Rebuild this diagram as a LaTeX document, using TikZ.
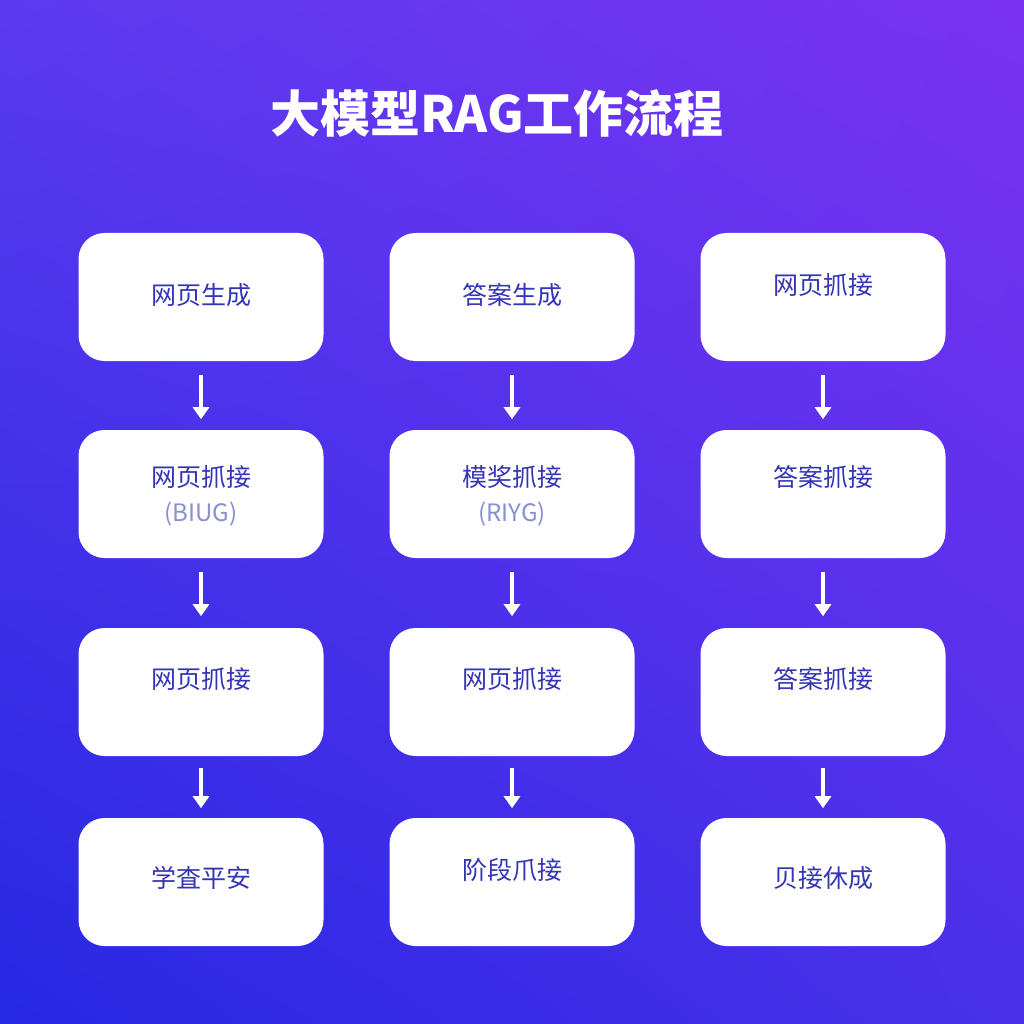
\documentclass[tikz,border=0pt]{standalone}
\usepackage{fontspec}
\newfontfamily\cjk{Noto Sans CJK SC}
\usetikzlibrary{arrows.meta,shadings}
\definecolor{tl}{HTML}{5A3AF0}
\definecolor{tr}{HTML}{7A32F2}
\definecolor{bl}{HTML}{2628E2}
\definecolor{br}{HTML}{4A30EA}
\definecolor{txt}{HTML}{3434B6}
\definecolor{sub}{HTML}{8A8ED2}
\tikzset{box/.style={fill=white,rounded corners=26pt,minimum width=245pt,minimum height=128pt,inner sep=0pt},
lab/.style={font=\cjk\fontsize{25}{30}\selectfont,text=txt},
sublab/.style={font=\cjk\fontsize{24}{28}\selectfont,text=sub},
arr/.style={draw=white,line width=4pt,-{Triangle[width=16pt,length=12pt]}}}
\begin{document}
\begin{tikzpicture}[x=1pt,y=-1pt]
\shade[upper left=tl,upper right=tr,lower left=bl,lower right=br] (0,0) rectangle (1024,1024);
\useasboundingbox (0,0) rectangle (1024,1024);
\node[font=\cjk\bfseries\fontsize{50}{60}\selectfont,text=white] (title) at (497,113) {大模型RAG工作流程};
\foreach \c/\x in {1/201,2/512,3/823}{
  \foreach \r/\y in {1/297,2/494,3/692,4/882}{
    \node[box] (b\c\r) at (\x,\y) {};
  }
  \draw[arr] (b\c1.south) ++(0,14) -- ++(0,44);
  \draw[arr] (b\c2.south) ++(0,14) -- ++(0,44);
  \draw[arr] (b\c3.south) ++(0,12) -- ++(0,40);
}
\node[lab] (t11) at (201,295) {网页生成};
\node[lab] (t21) at (512,295) {答案生成};
\node[lab] (t31) at (823,285) {网页抓接};
\node[lab] (t12) at (201,477) {网页抓接};
\node[sublab] (u12) at (201,514) {(BIUG)};
\node[lab] (t22) at (512,477) {模奖抓接};
\node[sublab] (u22) at (512,514) {(RIYG)};
\node[lab] (t32) at (823,477) {答案抓接};
\node[lab] (t13) at (201,679) {网页抓接};
\node[lab] (t23) at (512,679) {网页抓接};
\node[lab] (t33) at (823,679) {答案抓接};
\node[lab] (t14) at (201,878) {学査平安};
\node[lab] (t24) at (512,870) {阶段爪接};
\node[lab] (t34) at (823,878) {贝接休成};
\end{tikzpicture}
\end{document}
